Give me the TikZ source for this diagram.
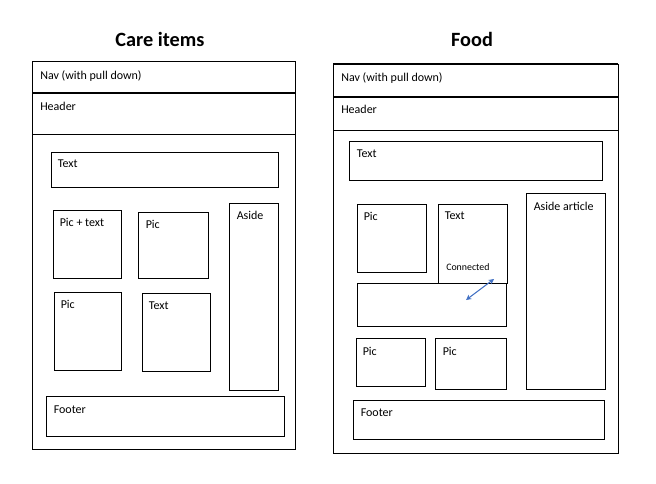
\documentclass[tikz,border=0pt]{standalone}
\usepackage{fontspec}
\setmainfont{Carlito}
\usetikzlibrary{fit,arrows.meta}
\begin{document}
\begin{tikzpicture}[x=0.75pt,y=-0.75pt,
  box/.style={draw=black,line width=0.75pt,inner sep=0pt,fill=none},
  lbl/.style={anchor=north west,inner sep=0pt,font=\fontsize{9}{10}\selectfont},
  ttl/.style={font=\fontsize{15.2}{17}\selectfont\bfseries},
  thick rule/.style={line width=1.6pt}]
\useasboundingbox[fill=white] (0,0) rectangle (656,483);

% ---------- Care items page ----------
\node[ttl] (t1) at (160,39) {Care items};
\node[box,fit={(32,61) (295,449)}] (p1) {};
\coordinate (n1l) at (32,93); \coordinate (n1r) at (295,93);
\coordinate (h1l) at (32,134); \coordinate (h1r) at (295,134);
\draw[thick rule] (n1l) -- (n1r);
\draw[line width=0.75pt] (h1l) -- (h1r);
\node[lbl] (nav1) at (40,70) {Nav (with pull down)};
\node[lbl] (hdr1) at (40,102) {Header};

\node[box,fit={(51,152) (278,187)}] (a1) {};
\node[lbl] at ([shift={(7,8)}]a1.north west) {Text};
\node[box,fit={(53,210) (121,278)}] (a2) {};
\node[lbl] at ([shift={(7,8)}]a2.north west) {Pic + text};
\node[box,fit={(138,212) (208,278)}] (a3) {};
\node[lbl] at ([shift={(8,8)}]a3.north west) {Pic};
\node[box,fit={(229,203) (278,390)}] (a4) {};
\node[lbl] at ([shift={(8,8)}]a4.north west) {Aside};
\node[box,fit={(54,292) (121,370)}] (a5) {};
\node[lbl] at ([shift={(7,8)}]a5.north west) {Pic};
\node[box,fit={(142,293) (210,371)}] (a6) {};
\node[lbl] at ([shift={(7,9)}]a6.north west) {Text};
\node[box,fit={(46,396) (284,436)}] (a7) {};
\node[lbl] at ([shift={(8,10)}]a7.north west) {Footer};

% ---------- Food page ----------
\node[ttl] (t2) at (472,39) {Food};
\node[box,fit={(333,64) (618,453)}] (p2) {};
\coordinate (top2l) at (333,64); \coordinate (top2r) at (618,64);
\coordinate (n2l) at (333,97); \coordinate (n2r) at (618,97);
\coordinate (h2l) at (333,130); \coordinate (h2r) at (618,130);
\draw[thick rule] (top2l) -- (top2r);
\draw[thick rule] (n2l) -- (n2r);
\draw[line width=0.75pt] (h2l) -- (h2r);
\node[lbl] (nav2) at (341,72) {Nav (with pull down)};
\node[lbl] (hdr2) at (341,105) {Header};

\node[box,fit={(349,141) (602,180)}] (b1) {};
\node[lbl] at ([shift={(8,9)}]b1.north west) {Text};
\node[box,fit={(357,204) (426,272)}] (b2) {};
\node[lbl] at ([shift={(7,8)}]b2.north west) {Pic};
\node[box,fit={(438,204) (507,283)}] (b3) {};
\node[lbl] at ([shift={(7,8)}]b3.north west) {Text};
\node[anchor=north west,inner sep=0pt,font=\fontsize{7.4}{8}\selectfont] (con) at (446,263) {Connected};
\node[box,fit={(526,193) (605,389)}] (b4) {};
\node[lbl] at ([shift={(8,9)}]b4.north west) {Aside article};
\node[box,fit={(357,283) (506,326)}] (b5) {};
\node[box,fit={(356,338) (425,386)}] (b6) {};
\node[lbl] at ([shift={(7,9)}]b6.north west) {Pic};
\node[box,fit={(435,338) (506,389)}] (b7) {};
\node[lbl] at ([shift={(8,9)}]b7.north west) {Pic};
\node[box,fit={(353,400) (604,439)}] (b8) {};
\node[lbl] at ([shift={(8,9)}]b8.north west) {Footer};

% link between the text block and the box below it
\coordinate (lnk1) at (494,279);
\coordinate (lnk2) at (466,300);
\draw[color={rgb,255:red,68;green,114;blue,196},line width=0.8pt,
  {Stealth[length=4pt,width=4pt]}-{Stealth[length=4pt,width=4pt]}] (lnk1) -- (lnk2);
\end{tikzpicture}
\end{document}
